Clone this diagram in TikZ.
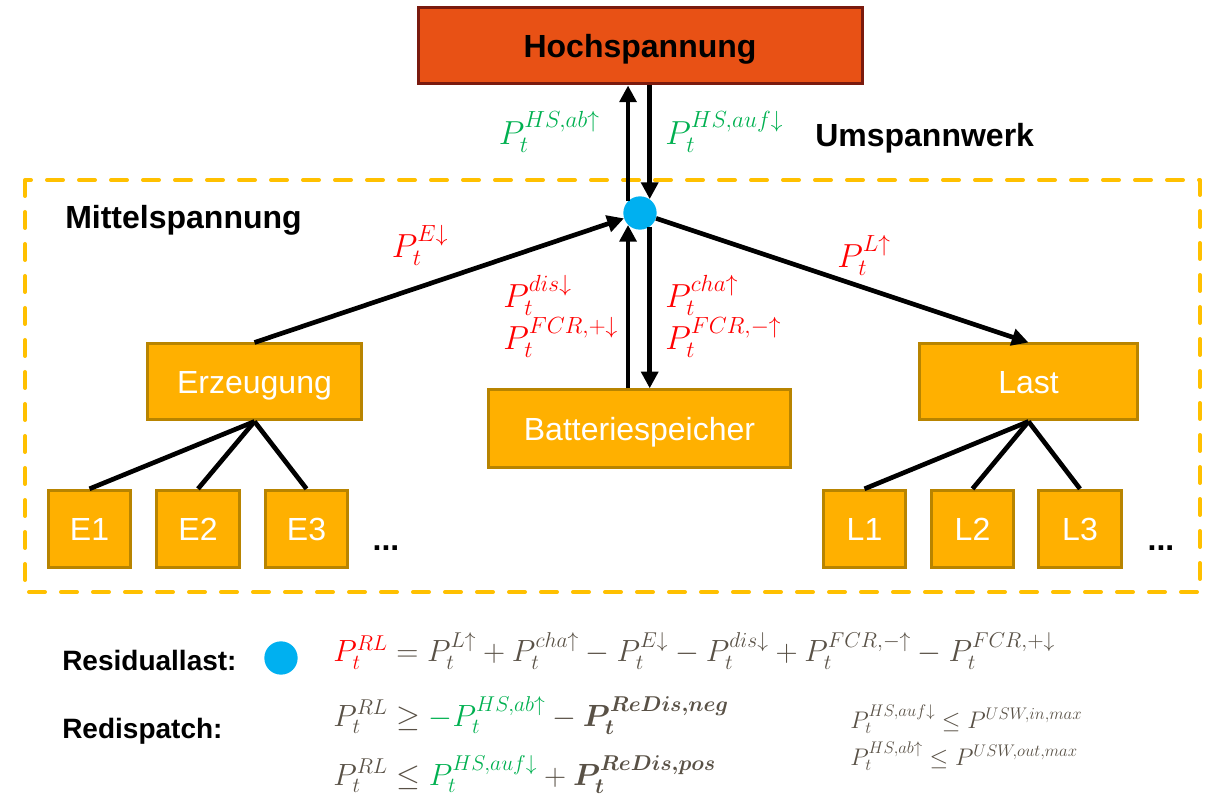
\RequirePackage{fix-cm}
\documentclass[tikz,border=0pt]{standalone}
\usepackage{fontspec}
\setmainfont{Liberation Sans}
\usepackage{amsmath}
\usepackage{bm}
\usetikzlibrary{positioning, arrows.meta, calc}

\definecolor{hsfill}{RGB}{232,81,21}
\definecolor{hsdraw}{RGB}{122,26,14}
\definecolor{boxfill}{RGB}{255,176,0}
\definecolor{boxdraw}{RGB}{184,132,0}
\definecolor{frameyellow}{RGB}{255,192,0}
\definecolor{hubblue}{RGB}{0,176,240}
\definecolor{eqgreen}{RGB}{0,176,80}
\definecolor{eqgray}{RGB}{89,81,70}

\begin{document}
\begin{tikzpicture}[
    x=0.75pt, y=-0.75pt,
    hsbox/.style={draw=hsdraw, fill=hsfill, line width=2.25pt, minimum width=333pt, minimum height=57pt, text depth=0pt, font=\fontsize{24}{28}\selectfont\bfseries},
    box/.style={draw=boxdraw, fill=boxfill, line width=2.25pt, minimum height=57pt, text depth=0pt, text=white, font=\fontsize{24}{28}\selectfont},
    subbox/.style={box, minimum width=62pt, minimum height=58pt},
    hub/.style={circle, fill=hubblue, inner sep=0pt, minimum size=25pt},
    arr/.style={-{Triangle[length=12.5pt,width=12.5pt]}, line width=3.5pt},
    tree/.style={line width=3.5pt},
    lbl/.style={font=\fontsize{25}{31.5}\selectfont, inner sep=0pt},
    eqn/.style={font=\fontsize{23}{27}\selectfont, inner sep=0pt, text=eqgray, anchor=base west},
    title/.style={font=\fontsize{24}{28}\selectfont\bfseries, inner sep=0pt},
    keytitle/.style={font=\fontsize{21}{25}\selectfont\bfseries, inner sep=0pt, anchor=west},
    small/.style={font=\fontsize{18}{21}\selectfont, inner sep=0pt, text=eqgray, anchor=base west}
]
    \useasboundingbox (0,0) rectangle (1215,798);

    % Umspannwerk frame
    \draw[frameyellow, line width=3pt, dash pattern=on 12pt off 12pt, line cap=round, line join=round] (25,180) rectangle (1200,592);
    \node[title, anchor=west] (usw) at (815,138) {Umspannwerk};
    \node[title, anchor=west] (msp) at (65,220) {Mittelspannung};

    % nodes
    \node[hsbox] (hs) at (640,46) {Hochspannung};
    \node[hub] (hub) at (640,213) {};
    \node[box, minimum width=161pt] (erz) at (254.5,382) {Erzeugung};
    \node[box, minimum width=226pt, minimum height=58pt] (batt) at (639.5,428.5) {Batteriespeicher};
    \node[box, minimum width=163pt] (last) at (1028.5,382) {Last};

    \node[subbox] (e1) at (89.5,529) {E1};
    \node[subbox] (e2) at (198,529) {E2};
    \node[subbox] (e3) at (306.5,529) {E3};
    \node[subbox] (l1) at (864.5,529) {L1};
    \node[subbox] (l2) at (972.5,529) {L2};
    \node[subbox] (l3) at (1080,529) {L3};
    \node[title] (edots) at (386,548) {...};
    \node[title] (ldots) at (1161,548) {...};

    % connectors
    \draw[arr] (erz.north) -- (hub);
    \draw[arr] (hub) -- (last.north);
    \draw[arr] (hub.135) -- (hub.135 |- hs.south);
    \draw[arr] (hs.south -| hub.55) -- (hub.55);
    \draw[arr] (batt.north -| hub.225) -- (hub.225);
    \draw[arr] (hub.-55) -- (hub.-55 |- batt.north);
    \foreach \i in {1,2,3} {
        \draw[tree] (erz.south) -- (e\i.north);
        \draw[tree] (last.south) -- (l\i.north);
    }

    % flow labels
    \node[lbl, text=red] (pe) at (420,245) {$P_t^{E\downarrow}$};
    \node[lbl, text=red] (pl) at (864,255) {$P_t^{L\uparrow}$};
    \node[lbl, text=eqgreen, anchor=east] (phsab) at (600,132) {$P_t^{HS,ab\uparrow}$};
    \node[lbl, text=eqgreen, anchor=west] (phsauf) at (665,132) {$P_t^{HS,auf\downarrow}$};
    \node[lbl, text=red, anchor=west, align=left] (pbdis) at (503,316) {$P_t^{dis\downarrow}$\\$P_t^{FCR,+\downarrow}$};
    \node[lbl, text=red, anchor=west, align=left] (pbcha) at (665,316) {$P_t^{cha\uparrow}$\\$P_t^{FCR,-\uparrow}$};

    % equations
    \node[keytitle] (resl) at (62,660) {Residuallast:};
    \node[hub] (hubkey) at (281,658) {};
    \node[eqn] (eqrl) at (333,662)
        {$\color{red}P_t^{RL}\color{eqgray} = P_t^{L\uparrow} + P_t^{cha\uparrow} - P_t^{E\downarrow} - P_t^{dis\downarrow} + P_t^{FCR,-\uparrow} - P_t^{FCR,+\downarrow}$};
    \node[keytitle] (redl) at (62,731) {Redispatch:};
    \node[eqn] (eqneg) at (333,726)
        {$P_t^{RL} \geq {\color{eqgreen}-P_t^{HS,ab\uparrow}} - \bm{P_t^{ReDis,neg}}$};
    \node[eqn] (eqpos) at (333,785)
        {$P_t^{RL} \leq {\color{eqgreen}P_t^{HS,auf\downarrow}} + \bm{P_t^{ReDis,pos}}$};
    \node[small] (eqin) at (850,728) {$P_t^{HS,auf\downarrow} \leq P^{USW,in,max}$};
    \node[small] (eqout) at (850,765) {$P_t^{HS,ab\uparrow} \leq P^{USW,out,max}$};
\end{tikzpicture}
\end{document}
